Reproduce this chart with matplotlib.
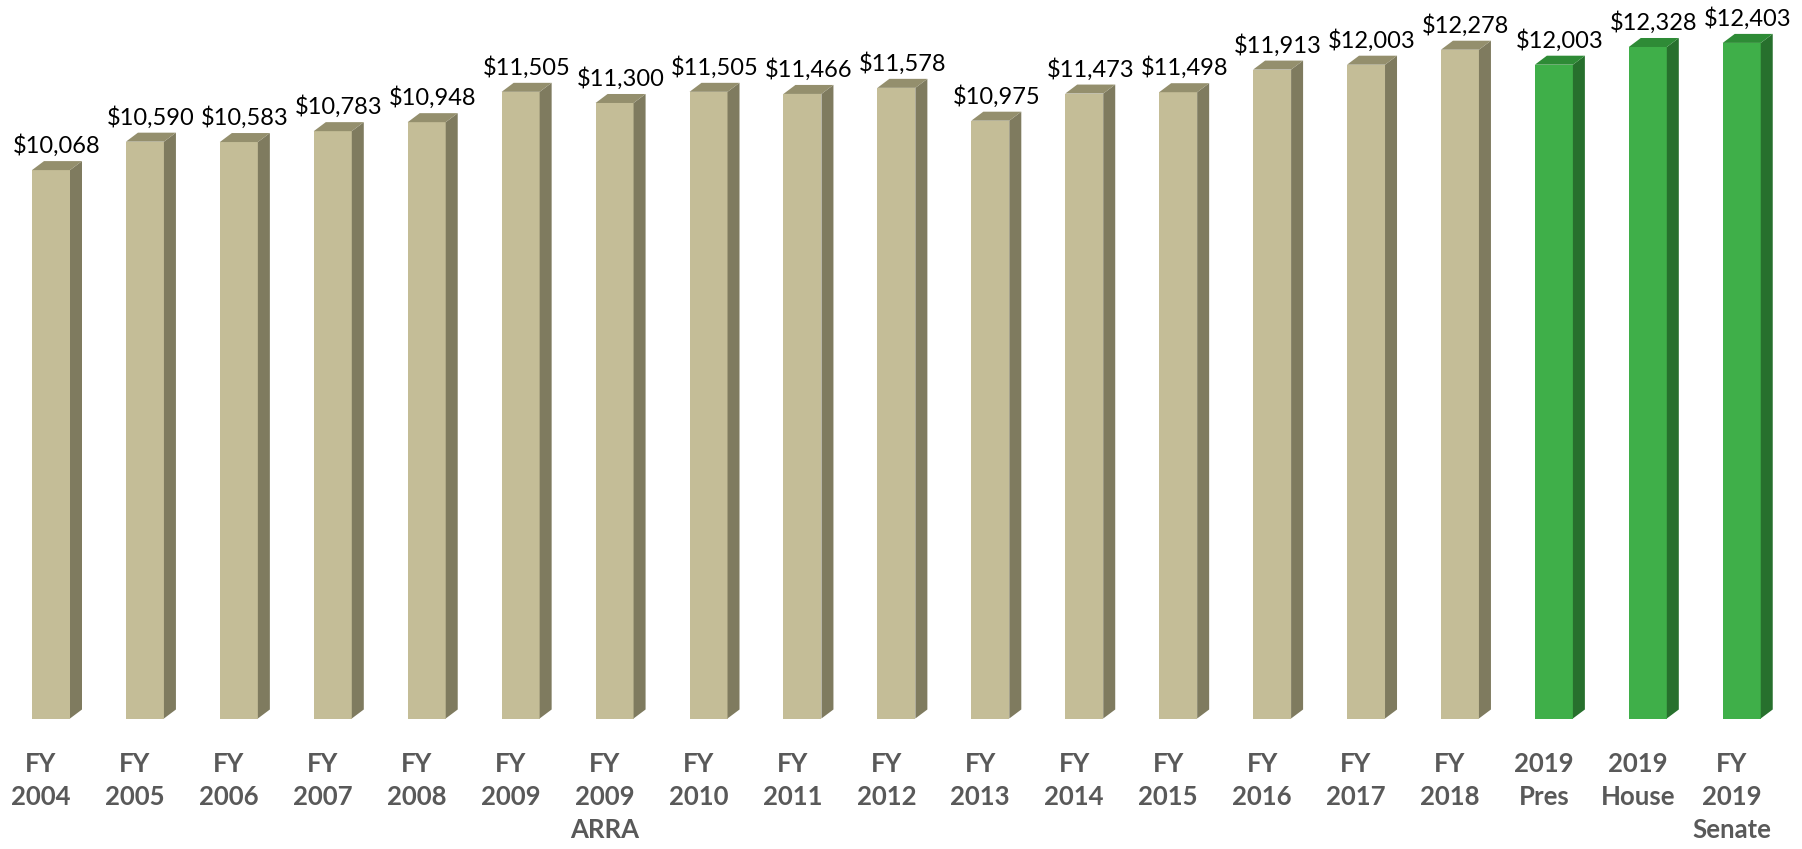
import numpy as np
import matplotlib
matplotlib.use('Agg')
import matplotlib.pyplot as plt
from matplotlib.patches import Rectangle, Polygon

# data
labels = ['FY\n2004', 'FY\n2005', 'FY\n2006', 'FY\n2007', 'FY\n2008', 'FY\n2009',
          'FY\n2009\nARRA', 'FY\n2010', 'FY\n2011', 'FY\n2012', 'FY\n2013', 'FY\n2014',
          'FY\n2015', 'FY\n2016', 'FY\n2017', 'FY\n2018', '2019\nPres', '2019\nHouse',
          'FY\n2019\nSenate']
values = [10068, 10590, 10583, 10783, 10948, 11505, 11300, 11505, 11466, 11578,
          10975, 11473, 11498, 11913, 12003, 12278, 12003, 12328, 12403]
is_request = [False] * 16 + [True] * 3

# colours (front, top, side)
tan = ('#C4BD97', '#948F6D', '#7F7B5F')
green = ('#3FAF49', '#2E8B36', '#27702D')

W, H, DPI = 1802, 849, 100
fig = plt.figure(figsize=(W / DPI, H / DPI), dpi=DPI)

base_px = 718.5          # baseline, px from top
step_px = 93.93          # distance between bars
x0_px = 51.0             # centre of first front face
py_per_unit = 0.05447    # px per dollar

ax = fig.add_axes([0, (H - base_px) / H, 1, base_px / H])
ax.set_xlim(-x0_px / step_px, (W - x0_px) / step_px)
ax.set_ylim(0, base_px / py_per_unit)
ax.axis('off')

w = 38 / step_px          # front face width
dx = 12 / step_px         # depth offset, x
dy = 9 / py_per_unit      # depth offset, y

for i, (v, req) in enumerate(zip(values, is_request)):
    front, top, side = green if req else tan
    l, r = i - w / 2, i + w / 2
    ax.add_patch(Rectangle((l, 0), w, v, facecolor=front, edgecolor='none'))
    ax.add_patch(Polygon([(r, 0), (r + dx, dy), (r + dx, v + dy), (r, v)],
                         closed=True, facecolor=side, edgecolor='none'))
    ax.add_patch(Polygon([(l, v), (l + dx, v + dy), (r + dx, v + dy), (r, v)],
                         closed=True, facecolor=top, edgecolor='none'))
    ax.annotate('${:,}'.format(v), xy=(i + dx / 2, v + dy), xytext=(0, 3),
                textcoords='offset points', ha='center', va='bottom',
                fontsize=17, family='Lato', color='black', annotation_clip=False)
    fig.text((x0_px + i * step_px - 10) / W, (H - 752) / H, labels[i],
             ha='center', va='top', fontsize=18.5, fontweight='bold',
             family='Lato', color='#595959', linespacing=1.45)

fig.savefig('out.png', dpi=DPI)
